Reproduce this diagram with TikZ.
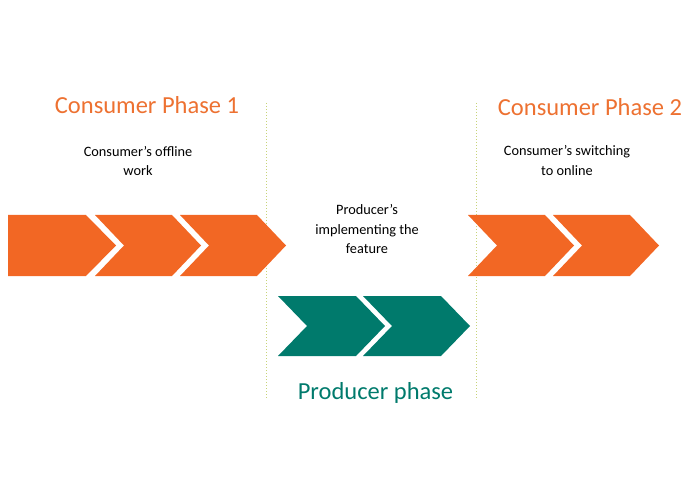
\documentclass[tikz,border=0pt]{standalone}
\usepackage{fontspec}
\setmainfont{Carlito}
\usepackage{tikz}
\usetikzlibrary{positioning}
\definecolor{chevorange}{RGB}{242,103,36}
\definecolor{titleorange}{RGB}{237,113,49}
\definecolor{chevteal}{RGB}{0,122,108}
\definecolor{sepline}{RGB}{200,212,120}

\begin{document}
\begin{tikzpicture}[x=1pt, y=-1pt]
    \useasboundingbox (0,0) rectangle (695,494);

    %
    \tikzset{chev/.style={fill=chevorange},
             tealchev/.style={fill=chevteal},
             title/.style={font=\fontsize{24.5}{28}\selectfont, text=titleorange},
             note/.style={font=\fontsize{14.3}{19.5}\selectfont, align=center}}

    %
    \draw[sepline, dotted, line width=1pt] (266,103) -- (266,398);
    \draw[sepline, dotted, line width=1pt] (476,103) -- (476,398);

    %
    \fill[chev] (8,215) -- (86,215) -- (116,245.5) -- (86,276) -- (8,276) -- cycle;
    \foreach \x in {95,180,468,553} {
        \begin{scope}[shift={(\x,215)}]
            \fill[chev] (0,0) -- (77,0) -- (106,30.5) -- (77,61) -- (0,61) -- (29,30.5) -- cycle;
        \end{scope}
    }

    %
    \foreach \x in {278,363} {
        \begin{scope}[shift={(\x,296)}]
            \fill[tealchev] (0,0) -- (78,0) -- (107,30) -- (78,60) -- (0,60) -- (29,30) -- cycle;
        \end{scope}
    }

    %
    \node[title] (phaseone) at (147,105) {Consumer Phase 1};
    \node[title] (phasetwo) at (590,107) {Consumer Phase 2};
    \node[font=\fontsize{24.5}{28}\selectfont, text=chevteal] (prodphase) at (375.5,393) {Producer phase};

    \node[note] (offline) at (138,161) {Consumer’s offline\\work};
    \node[note] (online) at (567,160.5) {Consumer’s switching\\to online};
    \node[note] (implement) at (367,229.5) {Producer’s\\implementing the\\feature};

\end{tikzpicture}
\end{document}
